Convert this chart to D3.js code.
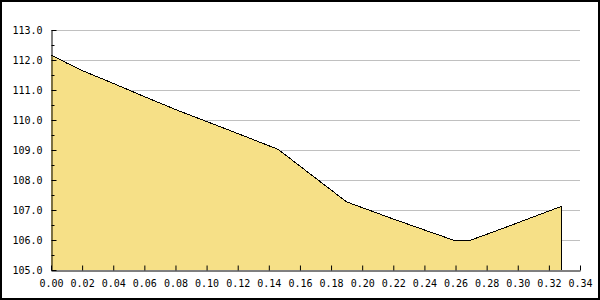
<!DOCTYPE html>
<html>
<head>
<meta charset="utf-8">
<script src="https://cdn.jsdelivr.net/npm/d3@7"></script>
<style>
  body { margin: 0; background: #fff; }
  text { font-family: "DejaVu Sans Mono", monospace; font-size: 10px; fill: #000; }
</style>
</head>
<body>
<div id="chart"></div>
<script>
// series
const xValues = [0, 0.01, 0.02, 0.04, 0.06, 0.08, 0.10, 0.12, 0.146, 0.19, 0.22, 0.26, 0.27, 0.29, 0.31, 0.328]
const yValues = [112.17, 111.90, 111.65, 111.22, 110.78, 110.35, 109.95, 109.55, 109.02, 107.27, 106.70, 105.97, 106.0, 106.38, 106.77, 107.12]

const xTicks = d3.range(0, 0.341, 0.02)
const yTicks = d3.range(105, 113.01, 1)
const yMinorTicks = d3.range(105.5, 113, 1)

const width = 600
const height = 300
const margin = { top: 30, right: 20, bottom: 30, left: 51 }

const data = xValues.map((x, i) => ({ x, y: yValues[i] }))

const svg = d3.select('#chart').append('svg')
  .attr('width', width)
  .attr('height', height)

const x = d3.scaleLinear().domain([0, 0.34]).range([margin.left, width - margin.right])
const y = d3.scaleLinear().domain([105, 113]).range([height - margin.bottom, margin.top])

// outer frame
svg.append('rect')
  .attr('x', 1).attr('y', 1)
  .attr('width', width - 2).attr('height', height - 2)
  .attr('fill', '#fff')
  .attr('stroke', '#000')
  .attr('stroke-width', 2)

// grid
svg.append('g')
  .selectAll('line')
  .data(yTicks.slice(1))
  .join('line')
  .attr('x1', x(0)).attr('x2', x(0.34))
  .attr('y1', d => Math.round(y(d)) + 0.5)
  .attr('y2', d => Math.round(y(d)) + 0.5)
  .attr('stroke', '#c0c0c0')
  .attr('stroke-width', 1)
  .attr('shape-rendering', 'crispEdges')

// area
const area = d3.area()
  .x(d => x(d.x))
  .y0(y(105))
  .y1(d => y(d.y))

svg.append('path')
  .datum(data)
  .attr('d', area)
  .attr('fill', '#f6e087')

const last = data[data.length - 1]
const line = d3.line().x(d => x(d.x)).y(d => y(d.y))
svg.append('path')
  .datum(data.concat([{ x: last.x, y: 105 }]))
  .attr('d', line)
  .attr('fill', 'none')
  .attr('stroke', '#000')
  .attr('stroke-width', 1)
  .attr('shape-rendering', 'crispEdges')

// x axis
const xAxis = d3.axisBottom(x)
  .tickValues(xTicks)
  .tickSize(-5)
  .tickSizeOuter(0)
  .tickPadding(9)
  .tickFormat(d3.format('.2f'))

const gx = svg.append('g')
  .attr('transform', `translate(0,${y(105) + 0.5})`)
  .call(xAxis)
gx.select('.domain').attr('stroke', '#000')
gx.selectAll('.tick line').attr('stroke', '#000')
gx.selectAll('.tick text').attr('font-family', null).attr('font-size', null)

// y axis
const yAxis = d3.axisLeft(y)
  .tickValues(yTicks)
  .tickSize(-5)
  .tickSizeOuter(0)
  .tickPadding(9)
  .tickFormat(d3.format('.1f'))

const gy = svg.append('g')
  .attr('transform', `translate(${x(0) + 0.5},0)`)
  .call(yAxis)
gy.select('.domain').attr('stroke', '#000')
gy.selectAll('.tick line').attr('stroke', '#000')
gy.selectAll('.tick text').attr('font-family', null).attr('font-size', null)

gy.selectAll('.minor')
  .data(yMinorTicks)
  .join('line')
  .attr('class', 'minor')
  .attr('x1', 0).attr('x2', 3)
  .attr('y1', d => Math.round(y(d)) + 0.5)
  .attr('y2', d => Math.round(y(d)) + 0.5)
  .attr('stroke', '#000')
</script>
</body>
</html>
